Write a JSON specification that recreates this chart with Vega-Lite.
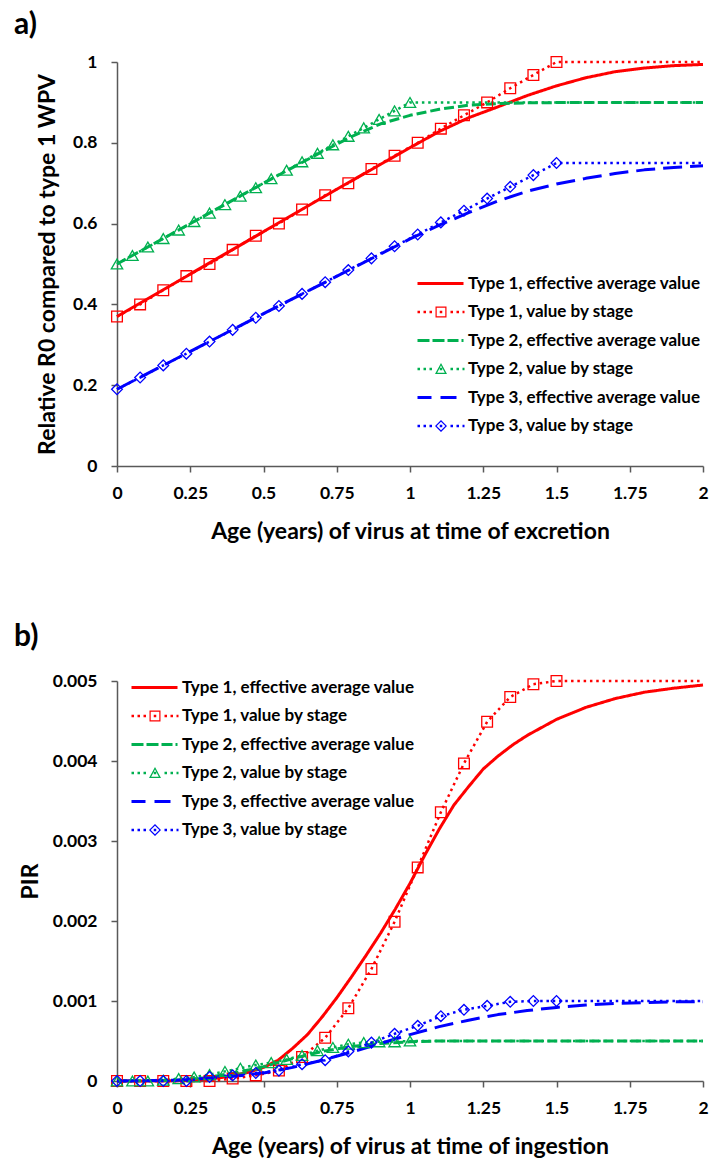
{
  "$schema": "https://vega.github.io/schema/vega-lite/v6.json",
  "background": "white",
  "padding": {"left": 14, "top": 10, "right": 4, "bottom": 4},
  "spacing": 78,
  "resolve": {"scale": {"color": "independent", "strokeDash": "independent", "stroke": "independent", "shape": "independent", "y": "independent"}, "legend": {"color": "independent"}},
  "config": {
    "view": {"stroke": null},
    "font": "Lato",
    "axis": {
      "grid": false,
      "domainColor": "#595959",
      "domainWidth": 1.5,
      "tickColor": "#595959",
      "tickWidth": 1.5,
      "tickSize": 6,
      "labelFont": "Lato",
      "labelFontSize": 17.5,
      "labelFontWeight": "bold",
      "labelColor": "#000",
      "labelFlush": false,
      "labelOverlap": false,
      "format": ".3~g",
      "titleFont": "Lato",
      "titleFontSize": 23,
      "titleFontWeight": "bold",
      "titleColor": "#000"
    },
    "axisX": {"labelPadding": 12},
    "axisY": {"labelPadding": 14},
    "legend": {
      "labelFont": "Lato",
      "labelFontSize": 17,
      "labelFontWeight": "bold",
      "labelColor": "#000",
      "labelLimit": 400,
      "symbolSize": 4,
      "symbolOffset": 0,
      "labelOffset": 41,
      "rowPadding": 10.5,
      "padding": 0
    },
    "title": {"fontSize": 30, "fontWeight": "bold", "font": "Lato", "color": "#000", "anchor": "start", "frame": "group", "dx": -103}
  },
  "datasets": {
    "a": [
      {"s": "Type 1, effective average value", "x": 0, "y": 0.37},
      {"s": "Type 1, effective average value", "x": 0.25, "y": 0.475},
      {"s": "Type 1, effective average value", "x": 0.5, "y": 0.58},
      {"s": "Type 1, effective average value", "x": 0.75, "y": 0.685},
      {"s": "Type 1, effective average value", "x": 1, "y": 0.788},
      {"s": "Type 1, effective average value", "x": 1.1, "y": 0.828},
      {"s": "Type 1, effective average value", "x": 1.2, "y": 0.862},
      {"s": "Type 1, effective average value", "x": 1.3, "y": 0.889},
      {"s": "Type 1, effective average value", "x": 1.4, "y": 0.917},
      {"s": "Type 1, effective average value", "x": 1.5, "y": 0.941},
      {"s": "Type 1, effective average value", "x": 1.6, "y": 0.961},
      {"s": "Type 1, effective average value", "x": 1.7, "y": 0.976},
      {"s": "Type 1, effective average value", "x": 1.8, "y": 0.985},
      {"s": "Type 1, effective average value", "x": 1.9, "y": 0.991},
      {"s": "Type 1, effective average value", "x": 2, "y": 0.994},
      {"s": "Type 1, value by stage", "x": 0, "y": 0.37},
      {"s": "Type 1, value by stage", "x": 0.0789, "y": 0.4},
      {"s": "Type 1, value by stage", "x": 0.1579, "y": 0.435},
      {"s": "Type 1, value by stage", "x": 0.2368, "y": 0.47},
      {"s": "Type 1, value by stage", "x": 0.3158, "y": 0.5},
      {"s": "Type 1, value by stage", "x": 0.3947, "y": 0.535},
      {"s": "Type 1, value by stage", "x": 0.4737, "y": 0.57},
      {"s": "Type 1, value by stage", "x": 0.5526, "y": 0.6},
      {"s": "Type 1, value by stage", "x": 0.6316, "y": 0.635},
      {"s": "Type 1, value by stage", "x": 0.7105, "y": 0.67},
      {"s": "Type 1, value by stage", "x": 0.7895, "y": 0.7},
      {"s": "Type 1, value by stage", "x": 0.8684, "y": 0.735},
      {"s": "Type 1, value by stage", "x": 0.9474, "y": 0.768},
      {"s": "Type 1, value by stage", "x": 1.0263, "y": 0.8},
      {"s": "Type 1, value by stage", "x": 1.1053, "y": 0.835},
      {"s": "Type 1, value by stage", "x": 1.1842, "y": 0.868},
      {"s": "Type 1, value by stage", "x": 1.2632, "y": 0.9},
      {"s": "Type 1, value by stage", "x": 1.3421, "y": 0.935},
      {"s": "Type 1, value by stage", "x": 1.4211, "y": 0.968},
      {"s": "Type 1, value by stage", "x": 1.5, "y": 1.0},
      {"s": "Type 1, value by stage", "x": 2, "y": 1.0},
      {"s": "Type 2, effective average value", "x": 0, "y": 0.5},
      {"s": "Type 2, effective average value", "x": 0.25, "y": 0.6},
      {"s": "Type 2, effective average value", "x": 0.5, "y": 0.7},
      {"s": "Type 2, effective average value", "x": 0.7, "y": 0.778},
      {"s": "Type 2, effective average value", "x": 0.8, "y": 0.815},
      {"s": "Type 2, effective average value", "x": 0.9, "y": 0.847},
      {"s": "Type 2, effective average value", "x": 1, "y": 0.868},
      {"s": "Type 2, effective average value", "x": 1.1, "y": 0.883},
      {"s": "Type 2, effective average value", "x": 1.2, "y": 0.893},
      {"s": "Type 2, effective average value", "x": 1.3, "y": 0.897},
      {"s": "Type 2, effective average value", "x": 1.4, "y": 0.899},
      {"s": "Type 2, effective average value", "x": 1.6, "y": 0.9},
      {"s": "Type 2, effective average value", "x": 2, "y": 0.9},
      {"s": "Type 2, value by stage", "x": 0, "y": 0.5},
      {"s": "Type 2, value by stage", "x": 0.0526, "y": 0.521},
      {"s": "Type 2, value by stage", "x": 0.1053, "y": 0.542},
      {"s": "Type 2, value by stage", "x": 0.1579, "y": 0.563},
      {"s": "Type 2, value by stage", "x": 0.2105, "y": 0.584},
      {"s": "Type 2, value by stage", "x": 0.2632, "y": 0.605},
      {"s": "Type 2, value by stage", "x": 0.3158, "y": 0.626},
      {"s": "Type 2, value by stage", "x": 0.3684, "y": 0.647},
      {"s": "Type 2, value by stage", "x": 0.4211, "y": 0.668},
      {"s": "Type 2, value by stage", "x": 0.4737, "y": 0.689},
      {"s": "Type 2, value by stage", "x": 0.5263, "y": 0.711},
      {"s": "Type 2, value by stage", "x": 0.5789, "y": 0.732},
      {"s": "Type 2, value by stage", "x": 0.6316, "y": 0.753},
      {"s": "Type 2, value by stage", "x": 0.6842, "y": 0.774},
      {"s": "Type 2, value by stage", "x": 0.7368, "y": 0.795},
      {"s": "Type 2, value by stage", "x": 0.7895, "y": 0.816},
      {"s": "Type 2, value by stage", "x": 0.8421, "y": 0.837},
      {"s": "Type 2, value by stage", "x": 0.8947, "y": 0.858},
      {"s": "Type 2, value by stage", "x": 0.9474, "y": 0.879},
      {"s": "Type 2, value by stage", "x": 1.0, "y": 0.9},
      {"s": "Type 2, value by stage", "x": 2, "y": 0.9},
      {"s": "Type 3, effective average value", "x": 0, "y": 0.19},
      {"s": "Type 3, effective average value", "x": 0.5, "y": 0.377},
      {"s": "Type 3, effective average value", "x": 1, "y": 0.562},
      {"s": "Type 3, effective average value", "x": 1.1, "y": 0.596},
      {"s": "Type 3, effective average value", "x": 1.2, "y": 0.627},
      {"s": "Type 3, effective average value", "x": 1.3, "y": 0.656},
      {"s": "Type 3, effective average value", "x": 1.4, "y": 0.68},
      {"s": "Type 3, effective average value", "x": 1.5, "y": 0.698},
      {"s": "Type 3, effective average value", "x": 1.6, "y": 0.712},
      {"s": "Type 3, effective average value", "x": 1.7, "y": 0.724},
      {"s": "Type 3, effective average value", "x": 1.8, "y": 0.733},
      {"s": "Type 3, effective average value", "x": 1.9, "y": 0.739},
      {"s": "Type 3, effective average value", "x": 2, "y": 0.743},
      {"s": "Type 3, value by stage", "x": 0, "y": 0.19},
      {"s": "Type 3, value by stage", "x": 0.0789, "y": 0.219},
      {"s": "Type 3, value by stage", "x": 0.1579, "y": 0.249},
      {"s": "Type 3, value by stage", "x": 0.2368, "y": 0.278},
      {"s": "Type 3, value by stage", "x": 0.3158, "y": 0.308},
      {"s": "Type 3, value by stage", "x": 0.3947, "y": 0.337},
      {"s": "Type 3, value by stage", "x": 0.4737, "y": 0.367},
      {"s": "Type 3, value by stage", "x": 0.5526, "y": 0.396},
      {"s": "Type 3, value by stage", "x": 0.6316, "y": 0.426},
      {"s": "Type 3, value by stage", "x": 0.7105, "y": 0.455},
      {"s": "Type 3, value by stage", "x": 0.7895, "y": 0.485},
      {"s": "Type 3, value by stage", "x": 0.8684, "y": 0.514},
      {"s": "Type 3, value by stage", "x": 0.9474, "y": 0.544},
      {"s": "Type 3, value by stage", "x": 1.0263, "y": 0.573},
      {"s": "Type 3, value by stage", "x": 1.1053, "y": 0.603},
      {"s": "Type 3, value by stage", "x": 1.1842, "y": 0.632},
      {"s": "Type 3, value by stage", "x": 1.2632, "y": 0.662},
      {"s": "Type 3, value by stage", "x": 1.3421, "y": 0.691},
      {"s": "Type 3, value by stage", "x": 1.4211, "y": 0.72},
      {"s": "Type 3, value by stage", "x": 1.5, "y": 0.75},
      {"s": "Type 3, value by stage", "x": 2, "y": 0.75}
    ],
    "b": [
      {"s": "Type 1, effective average value", "x": 0, "y": 0},
      {"s": "Type 1, effective average value", "x": 0.2, "y": 0.000003},
      {"s": "Type 1, effective average value", "x": 0.3, "y": 0.00002},
      {"s": "Type 1, effective average value", "x": 0.35, "y": 0.00004},
      {"s": "Type 1, effective average value", "x": 0.4, "y": 0.00007},
      {"s": "Type 1, effective average value", "x": 0.45, "y": 0.00011},
      {"s": "Type 1, effective average value", "x": 0.5, "y": 0.00017},
      {"s": "Type 1, effective average value", "x": 0.55, "y": 0.00026},
      {"s": "Type 1, effective average value", "x": 0.6, "y": 0.00041},
      {"s": "Type 1, effective average value", "x": 0.65, "y": 0.00058},
      {"s": "Type 1, effective average value", "x": 0.7, "y": 0.0008},
      {"s": "Type 1, effective average value", "x": 0.75, "y": 0.00104},
      {"s": "Type 1, effective average value", "x": 0.8, "y": 0.0013},
      {"s": "Type 1, effective average value", "x": 0.85, "y": 0.00157},
      {"s": "Type 1, effective average value", "x": 0.9, "y": 0.00185},
      {"s": "Type 1, effective average value", "x": 0.95, "y": 0.00215},
      {"s": "Type 1, effective average value", "x": 1, "y": 0.00247},
      {"s": "Type 1, effective average value", "x": 1.05, "y": 0.00282},
      {"s": "Type 1, effective average value", "x": 1.1, "y": 0.00315},
      {"s": "Type 1, effective average value", "x": 1.15, "y": 0.00345},
      {"s": "Type 1, effective average value", "x": 1.2, "y": 0.00368},
      {"s": "Type 1, effective average value", "x": 1.25, "y": 0.0039},
      {"s": "Type 1, effective average value", "x": 1.3, "y": 0.00406},
      {"s": "Type 1, effective average value", "x": 1.35, "y": 0.0042},
      {"s": "Type 1, effective average value", "x": 1.4, "y": 0.00432},
      {"s": "Type 1, effective average value", "x": 1.5, "y": 0.00452},
      {"s": "Type 1, effective average value", "x": 1.6, "y": 0.00467},
      {"s": "Type 1, effective average value", "x": 1.7, "y": 0.00478},
      {"s": "Type 1, effective average value", "x": 1.8, "y": 0.00486},
      {"s": "Type 1, effective average value", "x": 1.9, "y": 0.00491},
      {"s": "Type 1, effective average value", "x": 2, "y": 0.00495},
      {"s": "Type 1, value by stage", "x": 0, "y": 0},
      {"s": "Type 1, value by stage", "x": 0.0789, "y": 0},
      {"s": "Type 1, value by stage", "x": 0.1579, "y": 0},
      {"s": "Type 1, value by stage", "x": 0.2368, "y": 0},
      {"s": "Type 1, value by stage", "x": 0.3158, "y": 0},
      {"s": "Type 1, value by stage", "x": 0.3947, "y": 0.00003},
      {"s": "Type 1, value by stage", "x": 0.4737, "y": 0.00007},
      {"s": "Type 1, value by stage", "x": 0.5526, "y": 0.00013},
      {"s": "Type 1, value by stage", "x": 0.6316, "y": 0.0003},
      {"s": "Type 1, value by stage", "x": 0.7105, "y": 0.00054},
      {"s": "Type 1, value by stage", "x": 0.7895, "y": 0.00091},
      {"s": "Type 1, value by stage", "x": 0.8684, "y": 0.0014},
      {"s": "Type 1, value by stage", "x": 0.9474, "y": 0.00199},
      {"s": "Type 1, value by stage", "x": 1.0263, "y": 0.00267},
      {"s": "Type 1, value by stage", "x": 1.1053, "y": 0.00336},
      {"s": "Type 1, value by stage", "x": 1.1842, "y": 0.00397},
      {"s": "Type 1, value by stage", "x": 1.2632, "y": 0.00449},
      {"s": "Type 1, value by stage", "x": 1.3421, "y": 0.0048},
      {"s": "Type 1, value by stage", "x": 1.4211, "y": 0.00496},
      {"s": "Type 1, value by stage", "x": 1.5, "y": 0.005},
      {"s": "Type 1, value by stage", "x": 2, "y": 0.005},
      {"s": "Type 2, effective average value", "x": 0, "y": 0},
      {"s": "Type 2, effective average value", "x": 0.2, "y": 0.00001},
      {"s": "Type 2, effective average value", "x": 0.3, "y": 0.00004},
      {"s": "Type 2, effective average value", "x": 0.4, "y": 0.0001},
      {"s": "Type 2, effective average value", "x": 0.5, "y": 0.00018},
      {"s": "Type 2, effective average value", "x": 0.6, "y": 0.00028},
      {"s": "Type 2, effective average value", "x": 0.7, "y": 0.00037},
      {"s": "Type 2, effective average value", "x": 0.8, "y": 0.00043},
      {"s": "Type 2, effective average value", "x": 0.9, "y": 0.00047},
      {"s": "Type 2, effective average value", "x": 1, "y": 0.00049},
      {"s": "Type 2, effective average value", "x": 1.1, "y": 0.0005},
      {"s": "Type 2, effective average value", "x": 2, "y": 0.0005},
      {"s": "Type 2, value by stage", "x": 0, "y": 0},
      {"s": "Type 2, value by stage", "x": 0.0526, "y": 0},
      {"s": "Type 2, value by stage", "x": 0.1053, "y": 0},
      {"s": "Type 2, value by stage", "x": 0.1579, "y": 0.00001},
      {"s": "Type 2, value by stage", "x": 0.2105, "y": 0.00003},
      {"s": "Type 2, value by stage", "x": 0.2632, "y": 0.00005},
      {"s": "Type 2, value by stage", "x": 0.3158, "y": 0.00008},
      {"s": "Type 2, value by stage", "x": 0.3684, "y": 0.00012},
      {"s": "Type 2, value by stage", "x": 0.4211, "y": 0.00016},
      {"s": "Type 2, value by stage", "x": 0.4737, "y": 0.0002},
      {"s": "Type 2, value by stage", "x": 0.5263, "y": 0.00023},
      {"s": "Type 2, value by stage", "x": 0.5789, "y": 0.00027},
      {"s": "Type 2, value by stage", "x": 0.6316, "y": 0.00032},
      {"s": "Type 2, value by stage", "x": 0.6842, "y": 0.00038},
      {"s": "Type 2, value by stage", "x": 0.7368, "y": 0.00042},
      {"s": "Type 2, value by stage", "x": 0.7895, "y": 0.00046},
      {"s": "Type 2, value by stage", "x": 0.8421, "y": 0.00048},
      {"s": "Type 2, value by stage", "x": 0.8947, "y": 0.00049},
      {"s": "Type 2, value by stage", "x": 0.9474, "y": 0.00049},
      {"s": "Type 2, value by stage", "x": 1.0, "y": 0.0005},
      {"s": "Type 2, value by stage", "x": 2, "y": 0.0005},
      {"s": "Type 3, effective average value", "x": 0, "y": 0},
      {"s": "Type 3, effective average value", "x": 0.2, "y": 0.00001},
      {"s": "Type 3, effective average value", "x": 0.3, "y": 0.00003},
      {"s": "Type 3, effective average value", "x": 0.4, "y": 0.00006},
      {"s": "Type 3, effective average value", "x": 0.5, "y": 0.0001},
      {"s": "Type 3, effective average value", "x": 0.6, "y": 0.00017},
      {"s": "Type 3, effective average value", "x": 0.7, "y": 0.00026},
      {"s": "Type 3, effective average value", "x": 0.8, "y": 0.00036},
      {"s": "Type 3, effective average value", "x": 0.9, "y": 0.00047},
      {"s": "Type 3, effective average value", "x": 1, "y": 0.00058},
      {"s": "Type 3, effective average value", "x": 1.1, "y": 0.00068},
      {"s": "Type 3, effective average value", "x": 1.2, "y": 0.00076},
      {"s": "Type 3, effective average value", "x": 1.3, "y": 0.00083},
      {"s": "Type 3, effective average value", "x": 1.4, "y": 0.00088},
      {"s": "Type 3, effective average value", "x": 1.5, "y": 0.00092},
      {"s": "Type 3, effective average value", "x": 1.6, "y": 0.00095},
      {"s": "Type 3, effective average value", "x": 1.7, "y": 0.00097},
      {"s": "Type 3, effective average value", "x": 1.8, "y": 0.00098},
      {"s": "Type 3, effective average value", "x": 1.9, "y": 0.00099},
      {"s": "Type 3, effective average value", "x": 2, "y": 0.00099},
      {"s": "Type 3, value by stage", "x": 0, "y": 0},
      {"s": "Type 3, value by stage", "x": 0.0789, "y": 0},
      {"s": "Type 3, value by stage", "x": 0.1579, "y": 0},
      {"s": "Type 3, value by stage", "x": 0.2368, "y": 0},
      {"s": "Type 3, value by stage", "x": 0.3158, "y": 0.00005},
      {"s": "Type 3, value by stage", "x": 0.3947, "y": 0.00007},
      {"s": "Type 3, value by stage", "x": 0.4737, "y": 0.0001},
      {"s": "Type 3, value by stage", "x": 0.5526, "y": 0.00013},
      {"s": "Type 3, value by stage", "x": 0.6316, "y": 0.00021},
      {"s": "Type 3, value by stage", "x": 0.7105, "y": 0.00026},
      {"s": "Type 3, value by stage", "x": 0.7895, "y": 0.00037},
      {"s": "Type 3, value by stage", "x": 0.8684, "y": 0.00048},
      {"s": "Type 3, value by stage", "x": 0.9474, "y": 0.00059},
      {"s": "Type 3, value by stage", "x": 1.0263, "y": 0.00069},
      {"s": "Type 3, value by stage", "x": 1.1053, "y": 0.00081},
      {"s": "Type 3, value by stage", "x": 1.1842, "y": 0.00089},
      {"s": "Type 3, value by stage", "x": 1.2632, "y": 0.00094},
      {"s": "Type 3, value by stage", "x": 1.3421, "y": 0.00099},
      {"s": "Type 3, value by stage", "x": 1.4211, "y": 0.001},
      {"s": "Type 3, value by stage", "x": 1.5, "y": 0.001},
      {"s": "Type 3, value by stage", "x": 2, "y": 0.001}
    ]
  },
  "vconcat": [
    {
      "width": 586,
      "height": 404,
      "title": {"text": "a)", "offset": 13},
      "data": {"name": "a"},
      "layer": [
        {
          "mark": {"type": "line", "strokeCap": "butt", "strokeJoin": "round"},
          "encoding": {
            "x": {"field": "x", "type": "quantitative", "scale": {"domain": [0, 2], "nice": false},
              "axis": {"values": [0, 0.25, 0.5, 0.75, 1, 1.25, 1.5, 1.75, 2], "title": "Age (years) of virus at time of excretion", "titlePadding": 19}},
            "y": {"field": "y", "type": "quantitative", "scale": {"domain": [0, 1], "nice": false},
              "axis": {"values": [0, 0.2, 0.4, 0.6, 0.8, 1], "title": "Relative R0 compared to type 1 WPV", "titlePadding": 13}},
            "color": {"field": "s", "type": "nominal",
              "scale": {"domain": ["Type 1, effective average value", "Type 1, value by stage", "Type 2, effective average value", "Type 2, value by stage", "Type 3, effective average value", "Type 3, value by stage"],
                "range": ["#FF0000", "#FF0000", "#00B050", "#00B050", "#0000FF", "#0000FF"]},
              "legend": {"orient": "none", "legendX": 293, "legendY": 213, "title": null,
                "encode": {"symbols": {"update": {
                  "shape": {"signal": "['M-1,-1.5H45V1.5H-1Z', 'M-1,-1.25H1.5V1.25H-1Z M5,-1.25H7.5V1.25H5Z M11,-1.25H13.5V1.25H11Z M21.25,-1.25H23.75V1.25H21.25Z M32,-1.25H34.5V1.25H32Z M38,-1.25H40.5V1.25H38Z M44,-1.25H46V1.25H44Z M17,-5.5H28V5.5H17Z M18.2,-4.3V4.3H26.8V-4.3Z', 'M-1,-1.5H11V1.5H-1Z M14,-1.5H26V1.5H14Z M29,-1.5H40V1.5H29Z M43,-1.5H45V1.5H43Z', 'M-1,-1.25H1.5V1.25H-1Z M5,-1.25H7.5V1.25H5Z M11,-1.25H13.5V1.25H11Z M21.25,-1.25H23.75V1.25H21.25Z M32,-1.25H34.5V1.25H32Z M38,-1.25H40.5V1.25H38Z M44,-1.25H46V1.25H44Z M22.5,-6L28.5,5L16.5,5Z M22.5,-3.6L18.7,3.8L26.3,3.8Z', 'M-1,-1.5H13V1.5H-1Z M22,-1.5H38V1.5H22Z', 'M-1,-1.25H1.5V1.25H-1Z M5,-1.25H7.5V1.25H5Z M11,-1.25H13.5V1.25H11Z M21.25,-1.25H23.75V1.25H21.25Z M32,-1.25H34.5V1.25H32Z M38,-1.25H40.5V1.25H38Z M44,-1.25H46V1.25H44Z M22.5,-6L28.5,0L22.5,6L16.5,0Z M22.5,-4.3L18.2,0L22.5,4.3L26.8,0Z'][datum.index]"},
                  "fill": {"signal": "['#FF0000','#FF0000','#00B050','#00B050','#0000FF','#0000FF'][datum.index]"},
                  "fillOpacity": {"value": 1},
                  "stroke": {"value": "transparent"},
                  "strokeWidth": {"value": 0},
                  "size": {"value": 4},
                  "opacity": {"value": 1}
                }}}}},
            "strokeDash": {"field": "s", "type": "nominal", "legend": null,
              "scale": {"domain": ["Type 1, effective average value", "Type 1, value by stage", "Type 2, effective average value", "Type 2, value by stage", "Type 3, effective average value", "Type 3, value by stage"],
                "range": [[1, 0], [2.5, 3.8], [10, 4], [2.5, 3.8], [19, 8], [2.5, 3.8]]}},
            "strokeWidth": {"condition": {"test": "datum.s == 'Type 1, value by stage' || datum.s == 'Type 2, value by stage' || datum.s == 'Type 3, value by stage'", "value": 2.5}, "value": 3}
          }
        },
        {
          "transform": [{"filter": "(datum.s == 'Type 1, value by stage' || datum.s == 'Type 2, value by stage' || datum.s == 'Type 3, value by stage') && datum.x < 2"}],
          "mark": {"type": "point", "filled": false, "strokeWidth": 1.3, "opacity": 1},
          "encoding": {
            "x": {"field": "x", "type": "quantitative"},
            "y": {"field": "y", "type": "quantitative"},
            "stroke": {"field": "s", "type": "nominal", "legend": null,
              "scale": {"domain": ["Type 1, value by stage", "Type 2, value by stage", "Type 3, value by stage"], "range": ["#FF0000", "#00B050", "#0000FF"]}},
            "shape": {"field": "s", "type": "nominal", "legend": null,
              "scale": {"domain": ["Type 1, value by stage", "Type 2, value by stage", "Type 3, value by stage"], "range": ["square", "triangle-up", "diamond"]}},
            "size": {"condition": {"test": "datum.s == 'Type 2, value by stage'", "value": 130}, "value": 115}
          }
        }
      ]
    },
    {
      "width": 586,
      "height": 400,
      "title": {"text": "b)", "offset": 20},
      "data": {"name": "b"},
      "layer": [
        {
          "mark": {"type": "line", "strokeCap": "butt", "strokeJoin": "round"},
          "encoding": {
            "x": {"field": "x", "type": "quantitative", "scale": {"domain": [0, 2], "nice": false},
              "axis": {"values": [0, 0.25, 0.5, 0.75, 1, 1.25, 1.5, 1.75, 2], "title": "Age (years) of virus at time of ingestion", "titlePadding": 19}},
            "y": {"field": "y", "type": "quantitative", "scale": {"domain": [0, 0.005], "nice": false},
              "axis": {"values": [0, 0.001, 0.002, 0.003, 0.004, 0.005], "title": "PIR", "titlePadding": 10}},
            "color": {"field": "s", "type": "nominal",
              "scale": {"domain": ["Type 1, effective average value", "Type 1, value by stage", "Type 2, effective average value", "Type 2, value by stage", "Type 3, effective average value", "Type 3, value by stage"],
                "range": ["#FF0000", "#FF0000", "#00B050", "#00B050", "#0000FF", "#0000FF"]},
              "legend": {"orient": "none", "legendX": 7, "legendY": -2, "title": null,
                "encode": {"symbols": {"update": {
                  "shape": {"signal": "['M-1,-1.5H45V1.5H-1Z', 'M-1,-1.25H1.5V1.25H-1Z M5,-1.25H7.5V1.25H5Z M11,-1.25H13.5V1.25H11Z M21.25,-1.25H23.75V1.25H21.25Z M32,-1.25H34.5V1.25H32Z M38,-1.25H40.5V1.25H38Z M44,-1.25H46V1.25H44Z M17,-5.5H28V5.5H17Z M18.2,-4.3V4.3H26.8V-4.3Z', 'M-1,-1.5H11V1.5H-1Z M14,-1.5H26V1.5H14Z M29,-1.5H40V1.5H29Z M43,-1.5H45V1.5H43Z', 'M-1,-1.25H1.5V1.25H-1Z M5,-1.25H7.5V1.25H5Z M11,-1.25H13.5V1.25H11Z M21.25,-1.25H23.75V1.25H21.25Z M32,-1.25H34.5V1.25H32Z M38,-1.25H40.5V1.25H38Z M44,-1.25H46V1.25H44Z M22.5,-6L28.5,5L16.5,5Z M22.5,-3.6L18.7,3.8L26.3,3.8Z', 'M-1,-1.5H13V1.5H-1Z M22,-1.5H38V1.5H22Z', 'M-1,-1.25H1.5V1.25H-1Z M5,-1.25H7.5V1.25H5Z M11,-1.25H13.5V1.25H11Z M21.25,-1.25H23.75V1.25H21.25Z M32,-1.25H34.5V1.25H32Z M38,-1.25H40.5V1.25H38Z M44,-1.25H46V1.25H44Z M22.5,-6L28.5,0L22.5,6L16.5,0Z M22.5,-4.3L18.2,0L22.5,4.3L26.8,0Z'][datum.index]"},
                  "fill": {"signal": "['#FF0000','#FF0000','#00B050','#00B050','#0000FF','#0000FF'][datum.index]"},
                  "fillOpacity": {"value": 1},
                  "stroke": {"value": "transparent"},
                  "strokeWidth": {"value": 0},
                  "size": {"value": 4},
                  "opacity": {"value": 1}
                }}}}},
            "strokeDash": {"field": "s", "type": "nominal", "legend": null,
              "scale": {"domain": ["Type 1, effective average value", "Type 1, value by stage", "Type 2, effective average value", "Type 2, value by stage", "Type 3, effective average value", "Type 3, value by stage"],
                "range": [[1, 0], [2.5, 3.8], [10, 4], [2.5, 3.8], [19, 8], [2.5, 3.8]]}},
            "strokeWidth": {"condition": {"test": "datum.s == 'Type 1, value by stage' || datum.s == 'Type 2, value by stage' || datum.s == 'Type 3, value by stage'", "value": 2.5}, "value": 3}
          }
        },
        {
          "transform": [{"filter": "(datum.s == 'Type 1, value by stage' || datum.s == 'Type 2, value by stage' || datum.s == 'Type 3, value by stage') && datum.x < 2"}],
          "mark": {"type": "point", "filled": false, "strokeWidth": 1.3, "opacity": 1},
          "encoding": {
            "x": {"field": "x", "type": "quantitative"},
            "y": {"field": "y", "type": "quantitative"},
            "stroke": {"field": "s", "type": "nominal", "legend": null,
              "scale": {"domain": ["Type 1, value by stage", "Type 2, value by stage", "Type 3, value by stage"], "range": ["#FF0000", "#00B050", "#0000FF"]}},
            "shape": {"field": "s", "type": "nominal", "legend": null,
              "scale": {"domain": ["Type 1, value by stage", "Type 2, value by stage", "Type 3, value by stage"], "range": ["square", "triangle-up", "diamond"]}},
            "size": {"condition": {"test": "datum.s == 'Type 2, value by stage'", "value": 130}, "value": 115}
          }
        }
      ]
    }
  ]
}
